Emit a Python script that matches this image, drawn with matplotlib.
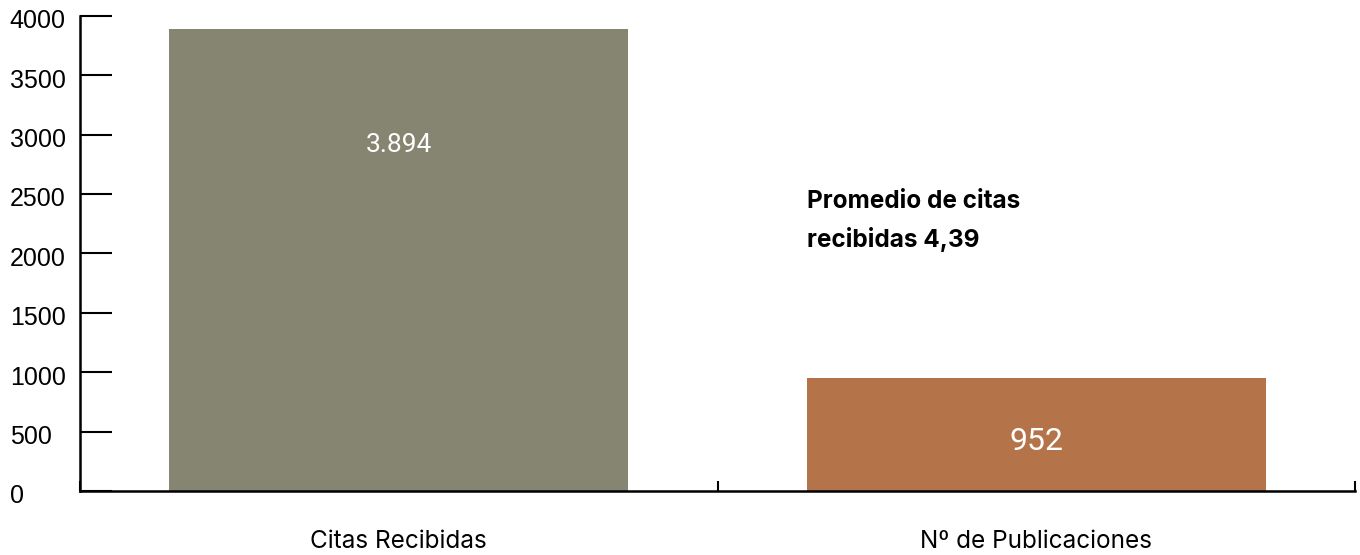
import matplotlib
matplotlib.use("Agg")
import matplotlib.pyplot as plt
import matplotlib.transforms as mtransforms

categories = ["Citas Recibidas", "Nº de Publicaciones"]
values = [3894, 952]
value_labels = ["3.894", "952"]
bar_colors = ["#858571", "#B5734A"]
y_ticks = [0, 500, 1000, 1500, 2000, 2500, 3000, 3500, 4000]
note_text = "Promedio de citas\nrecibidas 4,39"

W, H, DPI = 1360, 555, 100
fig = plt.figure(figsize=(W / DPI, H / DPI), dpi=DPI)
ax = fig.add_axes([80 / W, (H - 491) / H, (1355 - 80) / W, (491 - 16) / H])

x = list(range(len(categories)))
bar_w = 0.72
bars = ax.bar(x, values, width=bar_w, color=bar_colors, zorder=1)

ax.set_xlim(-0.5, len(categories) - 0.5)
ax.set_ylim(0, 4000)

# spines
for side in ("top", "right"):
    ax.spines[side].set_visible(False)
for side in ("left", "bottom"):
    ax.spines[side].set_linewidth(1.8)
    ax.spines[side].set_color("black")
    ax.spines[side].set_zorder(3)

# y axis: inward ticks, left-aligned labels
ax.set_yticks(y_ticks)
ax.set_yticklabels([str(v) for v in y_ticks], fontfamily="Liberation Sans", fontsize=18)
ax.tick_params(axis="y", direction="in", length=23, width=1.5, pad=50.5)
for lbl in ax.get_yticklabels():
    lbl.set_horizontalalignment("left")
    lbl.set_transform(lbl.get_transform() + mtransforms.ScaledTranslation(0, -2 / 72, fig.dpi_scale_trans))

# x axis: band boundary ticks, labels at band centres
bounds = [i - 0.5 for i in range(len(categories) + 1)]
ax.set_xticks(bounds)
ax.set_xticklabels([""] * len(bounds))
ax.tick_params(axis="x", which="major", direction="in", length=7, width=1.5)
ax.set_xticks(x, minor=True)
ax.set_xticklabels(categories, minor=True, fontfamily="Inter", fontsize=17.5)
ax.tick_params(axis="x", which="minor", length=0, pad=28)

# value labels inside bars
offsets_px = [116, 64]
label_sizes = [19, 23]
for b, lab, off, fs in zip(bars, value_labels, offsets_px, label_sizes):
    ax.annotate(lab, (b.get_x() + b.get_width() / 2, b.get_height()),
                xytext=(0, -off * 72 / DPI), textcoords="offset points",
                ha="center", va="center", color="white",
                fontfamily="Roboto", fontsize=fs)

# note next to the second bar
ax.text(bars[1].get_x(), 2274, note_text, ha="left", va="center",
        fontfamily="Inter", fontweight="bold", fontsize=17.5, linespacing=1.68)

fig.savefig("out.png", dpi=DPI)
